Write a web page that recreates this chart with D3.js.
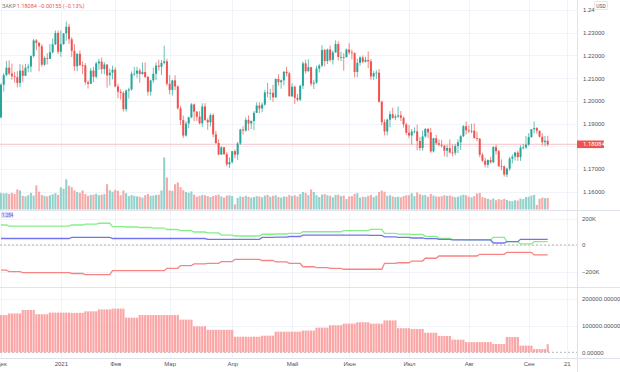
<!DOCTYPE html>
<html>
<head>
<meta charset="utf-8">
<script src="https://cdn.jsdelivr.net/npm/d3@7"></script>
<style>
  html, body { margin: 0; padding: 0; background: #ffffff; }
  svg { display: block; font-family: Roboto, "Noto Sans", sans-serif; }
</style>
</head>
<body>
<script>
// Daily EUR/USD bars, Dec 1 2020 .. Sep 10 2021 (one value per trading day)
const opens = [
  1.1927,1.2071,1.2113,1.2146,1.2120,1.2108,1.2104,1.2079,1.2133,1.2110,1.2146,1.2151,1.2197,1.2266,1.2255,1.2240,1.2159,1.2189,1.2185,1.2214,1.2249,1.2299,
  1.2216,1.2250,1.2297,1.2326,1.2271,1.2220,1.2152,1.2207,1.2157,1.2156,1.2082,1.2075,1.2133,1.2106,1.2165,1.2173,1.2140,1.2160,1.2112,1.2124,
  1.2137,1.2063,1.2040,1.2035,1.1963,1.2045,1.2050,1.2119,1.2120,1.2133,1.2118,1.2127,1.2105,1.2040,1.2090,1.2119,1.2155,1.2150,1.2167,1.2174,
  1.2075,1.2048,1.2090,1.2063,1.1967,1.1915,1.1847,1.1900,1.1927,1.1984,1.1952,1.1930,1.1901,1.1975,1.1915,1.1905,1.1937,1.1852,1.1814,1.1763,1.1795,1.1765,1.1720,
  1.1730,1.1778,1.1763,1.1812,1.1874,1.1869,1.1916,1.1900,1.1911,1.1947,1.1979,1.1966,1.1983,1.2037,1.2035,1.2035,1.2015,1.2096,1.2082,1.2090,1.2128,1.2121,
  1.2020,1.2062,1.2013,1.2005,1.2066,1.2165,1.2130,1.2148,1.2075,1.2080,1.2142,1.2155,1.2224,1.2175,1.2226,1.2180,1.2213,1.2250,1.2193,1.2193,1.2192,
  1.2226,1.2213,1.2210,1.2127,1.2167,1.2191,1.2172,1.2180,1.2174,1.2107,1.2122,1.2124,1.1996,1.1906,1.1865,1.1917,1.1941,1.1925,1.1931,1.1936,1.1925,1.1896,
  1.1859,1.1847,1.1865,1.1865,1.1823,1.1792,1.1843,1.1876,1.1861,1.1777,1.1835,1.1813,1.1806,1.1802,1.1780,1.1792,1.1772,1.1771,1.1801,1.1817,1.1844,1.1888,
  1.1870,1.1868,1.1868,1.1836,1.1833,1.1762,1.1736,1.1718,1.1739,1.1729,1.1796,1.1778,1.1712,1.1711,1.1675,1.1701,1.1745,1.1754,1.1772,1.1752,1.1794,1.1795,
  1.1807,1.1840,1.1875,1.1880,1.1868,1.1842,1.1818,1.1824
];
const highs = [
  1.2077,1.2122,1.2176,1.2178,1.2164,1.2128,1.2130,1.2162,1.2159,1.2163,1.2163,1.2201,1.2273,1.2272,1.2259,1.2250,1.2196,1.2210,1.2250,1.2275,1.2310,1.2309,
  1.2310,1.2298,1.2349,1.2339,1.2280,1.2250,1.2209,1.2222,1.2174,1.2166,1.2090,1.2145,1.2150,1.2172,1.2185,1.2190,1.2170,1.2160,1.2142,1.2155,
  1.2148,1.2075,1.2051,1.2042,1.2050,1.2058,1.2129,1.2150,1.2150,1.2143,1.2169,1.2169,1.2110,1.2093,1.2146,1.2169,1.2181,1.2180,1.2243,1.2185,
  1.2113,1.2093,1.2113,1.2068,1.1978,1.1935,1.1910,1.1930,1.1990,1.1988,1.1955,1.1954,1.1989,1.1990,1.1923,1.1944,1.1945,1.1868,1.1831,1.1800,1.1797,1.1774,1.1750,
  1.1779,1.1786,1.1819,1.1877,1.1888,1.1927,1.1935,1.1914,1.1955,1.1993,1.1994,1.1993,1.2048,1.2079,1.2052,1.2070,1.2098,1.2117,1.2093,1.2130,1.2150,1.2128,
  1.2077,1.2067,1.2030,1.2071,1.2173,1.2181,1.2183,1.2150,1.2093,1.2155,1.2163,1.2245,1.2228,1.2230,1.2243,1.2222,1.2266,1.2262,1.2216,1.2210,1.2230,
  1.2254,1.2226,1.2214,1.2185,1.2196,1.2200,1.2194,1.2218,1.2184,1.2131,1.2135,1.2140,1.2000,1.1918,1.1922,1.1954,1.1970,1.1940,1.1975,1.1955,1.1931,1.1903,
  1.1894,1.1876,1.1883,1.1895,1.1840,1.1869,1.1880,1.1880,1.1881,1.1838,1.1850,1.1830,1.1828,1.1805,1.1806,1.1830,1.1807,1.1810,1.1830,1.1849,1.1893,1.1909,
  1.1892,1.1899,1.1900,1.1864,1.1836,1.1771,1.1749,1.1742,1.1753,1.1801,1.1807,1.1784,1.1742,1.1716,1.1706,1.1753,1.1764,1.1776,1.1781,1.1804,1.1810,1.1845,
  1.1857,1.1873,1.1909,1.1884,1.1869,1.1858,1.1845,1.1846
];
const lows = [
  1.1923,1.2040,1.2108,1.2113,1.2093,1.2080,1.2059,1.2060,1.2082,1.2109,1.2126,1.2126,1.2191,1.2223,1.2130,1.2150,1.2154,1.2160,1.2184,1.2208,1.2245,1.2206,
  1.2194,1.2246,1.2265,1.2251,1.2193,1.2132,1.2130,1.2153,1.2117,1.2071,1.2054,1.2074,1.2082,1.2099,1.2136,1.2119,1.2117,1.2058,1.2067,1.2094,
  1.2060,1.2011,1.2005,1.1953,1.1952,1.2010,1.2045,1.2109,1.2101,1.2080,1.2114,1.2100,1.2023,1.2023,1.2078,1.2091,1.2133,1.2113,1.2160,1.2066,
  1.2028,1.2023,1.2047,1.1961,1.1893,1.1836,1.1842,1.1880,1.1923,1.1910,1.1911,1.1896,1.1885,1.1912,1.1872,1.1886,1.1840,1.1810,1.1760,1.1762,1.1762,1.1712,1.1704,
  1.1724,1.1747,1.1740,1.1806,1.1851,1.1863,1.1869,1.1875,1.1871,1.1946,1.1946,1.1950,1.1978,1.2015,1.2003,1.1995,1.2013,1.2067,1.2053,1.2068,1.2107,1.2019,
  1.2017,1.1986,1.1997,1.1999,1.2052,1.2120,1.2129,1.2065,1.2052,1.2075,1.2125,1.2148,1.2152,1.2162,1.2172,1.2160,1.2212,1.2178,1.2175,1.2133,1.2191,
  1.2204,1.2182,1.2103,1.2104,1.2154,1.2165,1.2169,1.2144,1.2093,1.2092,1.2096,1.1991,1.1892,1.1847,1.1848,1.1883,1.1921,1.1914,1.1924,1.1911,1.1882,1.1849,
  1.1835,1.1807,1.1857,1.1782,1.1780,1.1780,1.1838,1.1836,1.1771,1.1772,1.1805,1.1801,1.1794,1.1755,1.1752,1.1768,1.1755,1.1760,1.1770,1.1783,1.1840,1.1852,
  1.1858,1.1857,1.1832,1.1822,1.1751,1.1730,1.1706,1.1705,1.1723,1.1725,1.1763,1.1709,1.1694,1.1666,1.1664,1.1692,1.1724,1.1737,1.1735,1.1735,1.1785,1.1787,
  1.1801,1.1837,1.1856,1.1855,1.1838,1.1804,1.1800,1.1800
];
const closes = [
  1.2071,1.2113,1.2146,1.2120,1.2108,1.2104,1.2079,1.2133,1.2110,1.2146,1.2151,1.2197,1.2266,1.2255,1.2240,1.2159,1.2189,1.2185,1.2214,1.2249,1.2299,1.2216,
  1.2250,1.2297,1.2326,1.2271,1.2220,1.2152,1.2207,1.2157,1.2156,1.2082,1.2075,1.2133,1.2106,1.2165,1.2173,1.2140,1.2160,1.2112,1.2124,1.2137,
  1.2063,1.2040,1.2035,1.1963,1.2045,1.2050,1.2119,1.2120,1.2133,1.2118,1.2127,1.2105,1.2040,1.2090,1.2119,1.2155,1.2150,1.2167,1.2174,1.2075,
  1.2048,1.2090,1.2063,1.1967,1.1915,1.1847,1.1900,1.1927,1.1984,1.1952,1.1930,1.1901,1.1975,1.1915,1.1905,1.1937,1.1852,1.1814,1.1763,1.1795,1.1765,1.1720,1.1730,
  1.1778,1.1763,1.1812,1.1874,1.1869,1.1916,1.1900,1.1911,1.1947,1.1979,1.1966,1.1983,1.2037,1.2035,1.2035,1.2015,1.2096,1.2082,1.2090,1.2128,1.2121,1.2020,
  1.2062,1.2013,1.2005,1.2066,1.2165,1.2130,1.2148,1.2075,1.2080,1.2142,1.2155,1.2224,1.2175,1.2226,1.2180,1.2213,1.2250,1.2193,1.2193,1.2192,1.2226,
  1.2213,1.2210,1.2127,1.2167,1.2191,1.2172,1.2180,1.2174,1.2107,1.2122,1.2124,1.1996,1.1906,1.1865,1.1917,1.1941,1.1925,1.1931,1.1936,1.1925,1.1896,1.1859,
  1.1847,1.1865,1.1865,1.1823,1.1792,1.1843,1.1876,1.1861,1.1777,1.1835,1.1813,1.1806,1.1802,1.1780,1.1792,1.1772,1.1771,1.1801,1.1817,1.1844,1.1888,1.1870,
  1.1868,1.1868,1.1836,1.1833,1.1762,1.1736,1.1718,1.1739,1.1729,1.1796,1.1778,1.1712,1.1711,1.1675,1.1701,1.1745,1.1754,1.1772,1.1752,1.1794,1.1795,1.1807,
  1.1840,1.1875,1.1880,1.1868,1.1842,1.1818,1.1824,1.1808
];
const volumes = [
  112,108,110,104,112,106,135,128,92,88,96,112,94,162,120,98,92,88,96,102,110,98,
  149,140,203,160,150,128,118,112,128,104,92,98,100,106,96,100,104,170,130,120,
  132,126,96,128,110,90,98,92,88,86,80,96,104,92,94,98,100,128,350,215,
  128,125,170,182,150,130,118,112,122,100,86,92,98,96,90,84,92,96,100,88,80,94,96,
  90,35,78,88,84,92,86,80,84,90,88,82,94,98,86,92,96,84,80,88,86,98,
  90,96,88,104,118,112,98,135,118,96,84,100,104,96,92,82,98,100,90,94,70,
  88,90,104,110,80,86,84,92,98,84,94,118,128,120,92,96,88,84,86,82,90,96,
  96,110,90,115,102,96,98,86,104,94,88,86,90,96,92,94,88,82,86,94,100,96,
  86,82,90,108,112,84,78,72,66,74,62,70,66,72,64,58,56,62,60,74,70,84,
  86,94,98,30,72,80,76,78
];
const lastPrice = 1.18084;

// time axis
const tickIdx = [0, 22, 42, 62, 85, 107, 128, 150, 172, 194, 208];
const tickLabels = ['Дек', '2021', 'Фев', 'Мар', 'Апр', 'Май', 'Июн', 'Июл', 'Авг', 'Сен', '21'];
const priceTicks = [1.16, 1.17, 1.18, 1.19, 1.20, 1.21, 1.22, 1.23, 1.24];

// weekly series (value starts at the bar index in weekStart), thousands
const weekStart = [0,3,8,13,18,22,26,31,36,41,46,51,56,61,66,71,76,81,86,91,96,101,106,111,116,121,126,131,136,141,146,151,156,161,166,171,176,181,186,191,196,201];
const cotGreen = [151,143,143,143,143,143,151,158,164,138,136,132,128,117,109,98,91,75,68,68,81,83,87,100,100,100,108,108,118,88,82,80,65,50,40,38,38,58,25,8,25,25];
const cotBlue = [49,49,49,49,49,49,57,57,57,49,49,49,49,49,49,49,43,43,43,43,57,60,64,75,75,75,75,75,72,62,58,53,48,43,38,38,38,15,25,43,43,43];
const cotRed = [-189,-201,-209,-209,-209,-209,-215,-223,-223,-194,-194,-194,-194,-176,-155,-143,-138,-126,-108,-108,-117,-128,-138,-164,-170,-176,-183,-183,-183,-138,-134,-121,-100,-83,-83,-83,-70,-70,-55,-55,-75,-75];
const cotTicks = [200, 0, -200];
const openInterest = [139,145,158,142,148,148,147,153,160,163,129,139,139,139,122,97,84,84,58,58,62,77,77,81,92,101,107,112,107,119,90,87,73,61,47,38,38,31,57,25,12,30];
const oiTicks = [200000, 100000, 0];

const width = 620;
const height = 372;
const axisX = 577;
const up = '#26a69a', down = '#ef5350';
const gridColor = '#f0f3fa', lineColor = '#e0e3eb', textColor = '#50535e';

const svg = d3.select('body').append('svg')
  .attr('width', width)
  .attr('height', height);

svg.append('defs').append('clipPath').attr('id', 'plot')
  .append('rect').attr('x', 0).attr('y', 0).attr('width', axisX).attr('height', 358);

const bars = closes.map((c, i) => {
  const g = d3.bisectRight(weekStart, i) - 1;
  return { i, o: opens[i], h: highs[i], l: lows[i], c, v: volumes[i],
    green: cotGreen[g], blue: cotBlue[g], red: cotRed[g], oi: openInterest[g] * 1000 };
});

// scales
const x = d3.scaleLinear().domain([0, 208]).range([1, 1 + 208 * 2.72]);
const yPrice = d3.scaleLinear().domain([1.16, 1.24]).range([191.6, 10]);
const yVol = d3.scaleLinear().domain([0, 350]).range([209.5, 157.5]);
const yCot = d3.scaleLinear().domain([-200, 200]).range([271.5, 218.5]);
const yOi = d3.scaleLinear().domain([0, 200000]).range([352.3, 298.7]);

const plot = svg.append('g').attr('clip-path', 'url(#plot)');

// grid
plot.selectAll('.hgrid').data(priceTicks).enter().append('line')
  .attr('x1', 0).attr('x2', axisX)
  .attr('y1', d => Math.round(yPrice(d)) + 0.5).attr('y2', d => Math.round(yPrice(d)) + 0.5)
  .attr('stroke', gridColor);
plot.selectAll('.cgrid').data(cotTicks).enter().append('line')
  .attr('x1', 0).attr('x2', axisX)
  .attr('y1', d => Math.round(yCot(d)) + 0.5).attr('y2', d => Math.round(yCot(d)) + 0.5)
  .attr('stroke', gridColor);
plot.selectAll('.ogrid').data(oiTicks.slice(0, 2)).enter().append('line')
  .attr('x1', 0).attr('x2', axisX)
  .attr('y1', d => Math.round(yOi(d)) + 0.5).attr('y2', d => Math.round(yOi(d)) + 0.5)
  .attr('stroke', gridColor);
plot.selectAll('.vgrid').data(tickIdx).enter().append('line')
  .attr('x1', d => Math.round(x(d)) + 0.5).attr('x2', d => Math.round(x(d)) + 0.5)
  .attr('y1', 0).attr('y2', 358)
  .attr('stroke', gridColor);

// volume
plot.selectAll('.vol').data(bars).enter().append('rect')
  .attr('x', d => x(d.i) - 1.05)
  .attr('width', 2.1)
  .attr('y', d => yVol(d.v))
  .attr('height', d => yVol(0) - yVol(d.v))
  .attr('fill', d => d.c >= d.o ? '#92d2cc' : '#f7a9a7');

// last price line
plot.append('line')
  .attr('x1', 0).attr('x2', axisX)
  .attr('y1', yPrice(lastPrice)).attr('y2', yPrice(lastPrice))
  .attr('stroke', '#f6b3b2').attr('stroke-width', 0.8);

// candles
const candles = plot.selectAll('.candle').data(bars).enter().append('g');
candles.append('line')
  .attr('x1', d => x(d.i)).attr('x2', d => x(d.i))
  .attr('y1', d => yPrice(d.h)).attr('y2', d => yPrice(d.l))
  .attr('stroke', d => d.c >= d.o ? up : down)
  .attr('stroke-width', 0.7);
candles.append('rect')
  .attr('x', d => x(d.i) - 1)
  .attr('width', 2)
  .attr('y', d => yPrice(Math.max(d.o, d.c)))
  .attr('height', d => Math.max(0.8, Math.abs(yPrice(d.o) - yPrice(d.c))))
  .attr('fill', d => d.c >= d.o ? up : down);

// COT pane
plot.append('line')
  .attr('x1', 0).attr('x2', axisX)
  .attr('y1', yCot(0)).attr('y2', yCot(0))
  .attr('stroke', '#9598a1').attr('stroke-width', 0.7)
  .attr('stroke-dasharray', '2,2');

const cotLine = key => d3.line().x(d => x(d.i)).y(d => yCot(d[key]));
[['green', '#86ee86'], ['blue', '#7373f0'], ['red', '#f78383']].forEach(([k, col]) => {
  plot.append('path')
    .datum(bars)
    .attr('d', cotLine(k))
    .attr('fill', 'none')
    .attr('stroke', col)
    .attr('stroke-width', 1.3);
});

// open interest pane
plot.append('line')
  .attr('x1', 0).attr('x2', axisX)
  .attr('y1', yOi(0)).attr('y2', yOi(0))
  .attr('stroke', '#9598a1').attr('stroke-width', 0.7)
  .attr('stroke-dasharray', '2,2');
plot.selectAll('.oi').data(bars).enter().append('rect')
  .attr('x', d => x(d.i) - 1.1)
  .attr('width', 2.2)
  .attr('y', d => yOi(d.oi))
  .attr('height', d => yOi(0) - yOi(d.oi))
  .attr('fill', '#fba6a6');

// pane separators and right axis border
[210.5, 287.5, 358.5].forEach(y => {
  svg.append('line').attr('x1', 0).attr('x2', width)
    .attr('y1', y).attr('y2', y)
    .attr('stroke', lineColor);
});
svg.append('line').attr('x1', axisX + 0.5).attr('x2', axisX + 0.5)
  .attr('y1', 0).attr('y2', height)
  .attr('stroke', lineColor);

// right axes
const styleAxis = g => {
  g.select('.domain').remove();
  g.selectAll('text').attr('fill', textColor).attr('font-size', 6);
};
// the last-price badge hides the tick label that sits under it
const labelledTicks = priceTicks.filter(d => Math.abs(yPrice(d) - yPrice(lastPrice)) > 7);
svg.append('g')
  .attr('transform', `translate(${axisX},0)`)
  .call(d3.axisRight(yPrice).tickValues(labelledTicks).tickSize(0).tickPadding(6)
    .tickFormat(d => d === 1.24 ? '1.24' : d3.format('.5f')(d)))
  .call(styleAxis);
svg.append('g')
  .attr('transform', `translate(${axisX},0)`)
  .call(d3.axisRight(yCot).tickValues(cotTicks).tickSize(0).tickPadding(5)
    .tickFormat(d => d === 0 ? '0' : (d < 0 ? '\u2212' : '') + Math.abs(d) + 'K'))
  .call(styleAxis);
svg.append('g')
  .attr('transform', `translate(${axisX},0)`)
  .call(d3.axisRight(yOi).tickValues(oiTicks).tickSize(0).tickPadding(5)
    .tickFormat(d3.format('.5f')))
  .call(styleAxis);

// time axis
svg.append('g')
  .attr('transform', 'translate(0,358.5)')
  .call(d3.axisBottom(x).tickValues(tickIdx).tickSize(0).tickPadding(3.5)
    .tickFormat((d, i) => tickLabels[i]))
  .call(styleAxis);

// currency badge
svg.append('rect').attr('x', 594.5).attr('y', 1.5).attr('width', 13).attr('height', 8)
  .attr('fill', '#fff').attr('stroke', '#d1d4dc').attr('stroke-width', 0.6).attr('rx', 1);
svg.append('text').attr('x', 601).attr('y', 7.6).attr('text-anchor', 'middle')
  .attr('font-size', 5).attr('fill', textColor).text('USD');

// last price badge
svg.append('rect').attr('x', axisX).attr('y', yPrice(lastPrice) - 3.8)
  .attr('width', 27).attr('height', 7.6).attr('fill', down);
svg.append('text').attr('x', axisX + 6).attr('y', yPrice(lastPrice) + 2.1)
  .attr('font-size', 6).attr('fill', '#fff').text(d3.format('.5f')(lastPrice));

// legend line
const legend = svg.append('text').attr('x', 2).attr('y', 8).attr('font-size', 5.5);
legend.append('tspan').attr('fill', '#787b86').text('ЗАКР');
legend.append('tspan').attr('fill', down).attr('dx', 1)
  .text(`${d3.format('.5f')(lastPrice)} \u22120.00155 (\u22120.13%)`);

// COT pane badge
svg.append('rect').attr('x', 1).attr('y', 212).attr('width', 12).attr('height', 6)
  .attr('fill', '#dcdcfb');
svg.append('text').attr('x', 2).attr('y', 216.6).attr('font-size', 4.5)
  .attr('fill', '#5b5bd6').text('1.284');
</script>
</body>
</html>
